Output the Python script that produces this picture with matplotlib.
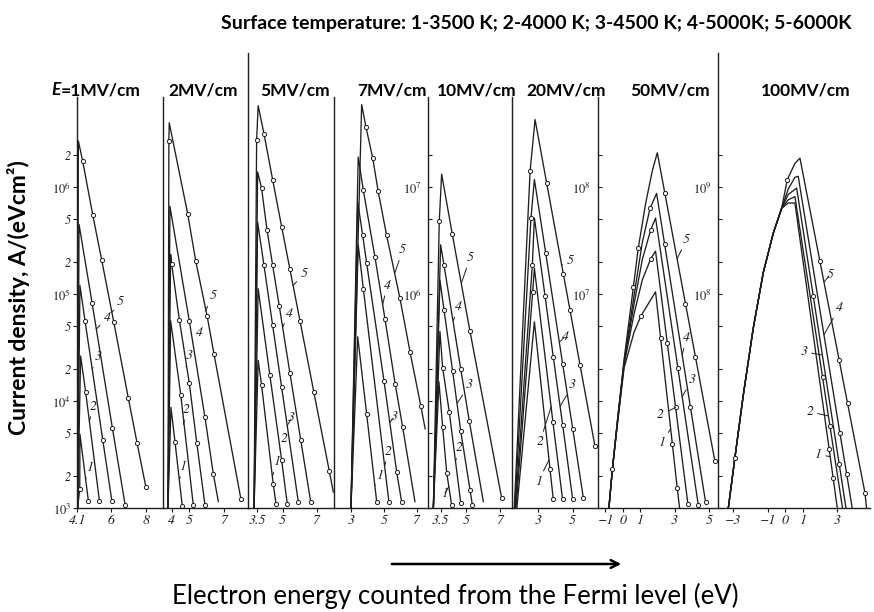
import numpy as np
import matplotlib.pyplot as plt
from matplotlib.patches import FancyArrowPatch

plt.rcParams['font.family'] = ['Lato', 'DejaVu Sans']
plt.rcParams['mathtext.fontset'] = 'stix'

# ---------------- text ----------------
title = 'Surface temperature: 1-3500 K; 2-4000 K; 3-4500 K; 4-5000K; 5-6000K'
fields = ['=1MV/cm', '2MV/cm', '5MV/cm', '7MV/cm', '10MV/cm', '20MV/cm', '50MV/cm', '100MV/cm']
ylabel = 'Current density, A/(eVcm\u00b2)'
xlabel = 'Electron energy counted from the Fermi level (eV)'

# ---------------- data: energy (eV) and log10 of current density ----------------
# panel 1, E = 1 MV/cm
p1_x = [[4.12, 4.24, 4.25, 4.73],
        [4.12, 4.29, 4.58, 5.36],
        [4.12, 4.25, 4.54, 5.55, 6.07],
        [4.12, 4.20, 4.94, 6.10, 6.83],
        [4.12, 4.16, 4.41, 4.98, 5.49, 6.18, 7.01, 7.51, 8.01]]
p1_y = [[3.0, 3.18, 3.69, 3.07],
        [3.0, 4.42, 4.08, 3.07],
        [3.0, 5.08, 4.75, 3.64, 3.07],
        [3.0, 5.65, 4.92, 3.75, 3.03],
        [3.0, 6.43, 6.24, 5.74, 5.32, 4.74, 4.03, 3.61, 3.20]]
p1_mk = [[1, 3], [2, 3], [2, 3, 4], [2, 3, 4], [2, 3, 4, 5, 6, 7, 8]]
p1_num = [(4.79, 3.38), (5.01, 3.95), (5.30, 4.41), (5.81, 4.78), (6.58, 4.93)]
p1_lead = [(4.58, 3.27), (4.79, 3.81), (4.96, 4.30), (5.18, 4.67), (6.07, 4.83)]
p1_xt = [4.1, 6, 8]

# panel 2, 2 MV/cm
p2_x = [[3.78, 3.95, 4.18, 4.60],
        [3.78, 3.93, 4.51, 5.23],
        [3.78, 3.93, 3.99, 4.43, 5.00, 5.43, 5.90],
        [3.78, 3.89, 5.00, 5.90, 6.38, 6.67],
        [3.78, 3.83, 3.85, 4.91, 5.37, 6.03, 6.42, 7.97]]
p2_y = [[3.0, 3.94, 3.62, 3.02],
        [3.0, 4.75, 4.06, 3.03],
        [3.0, 5.37, 5.28, 4.76, 4.17, 3.61, 3.03],
        [3.0, 5.82, 4.75, 3.85, 3.32, 3.06],
        [3.0, 6.43, 6.60, 5.75, 5.31, 4.79, 4.44, 3.08]]
p2_mk = [[2, 3], [2, 3], [2, 3, 4, 5, 6], [2, 3, 4], [1, 3, 4, 5, 6, 7]]
p2_num = [(4.62, 3.39), (4.85, 3.92), (5.00, 4.42), (5.61, 4.64), (6.38, 4.98)]
p2_lead = [(4.43, 3.26), (4.66, 3.78), (4.81, 4.32), (5.20, 4.55), (5.91, 4.84)]
p2_xt = [4, 5, 7]

# panel 3, 5 MV/cm
p3_x = [[3.32, 3.56, 3.76, 4.45, 4.61],
        [3.32, 3.56, 4.25, 4.94, 5.27],
        [3.32, 3.53, 3.90, 4.41, 4.94, 5.92],
        [3.32, 3.53, 3.76, 4.08, 4.41, 4.80, 5.43, 6.06, 6.65],
        [3.32, 3.47, 3.56, 3.90, 4.41, 4.94, 5.43, 6.02, 6.84, 7.74, 7.98]]
p3_y = [[3.0, 4.38, 4.15, 3.22, 3.04],
        [3.0, 5.05, 4.24, 3.45, 3.04],
        [3.0, 5.67, 5.27, 4.71, 4.13, 3.06],
        [3.0, 6.14, 5.99, 5.60, 5.27, 4.89, 4.26, 3.64, 3.06],
        [3.0, 6.44, 6.76, 6.50, 6.07, 5.63, 5.23, 4.75, 4.08, 3.35, 3.15]]
p3_mk = [[2, 3, 4], [2, 3, 4], [2, 3, 4, 5], [2, 3, 4, 5, 6, 7, 8], [1, 3, 4, 5, 6, 7, 8, 9]]
p3_num = [(4.65, 3.43), (5.08, 3.65), (5.53, 3.84), (5.39, 4.82), (6.25, 5.19)]
p3_lead = [(4.41, 3.30), (4.84, 3.55), (5.27, 3.77), (5.00, 4.69), (5.62, 5.08)]
p3_xt = [3.5, 5, 7]

# panel 4, 7 MV/cm
p4_x = [[3.0, 3.41, 3.95, 4.56],
        [3.0, 3.44, 3.75, 5.30],
        [3.0, 3.41, 3.71, 3.95, 5.00, 5.77, 6.07],
        [3.0, 3.44, 3.75, 4.45, 5.06, 5.68, 6.13, 6.88],
        [3.0, 3.65, 3.91, 4.32, 4.65, 5.16, 5.97, 6.58, 7.24, 7.50]]
p4_y = [[3.0, 4.60, 3.88, 3.06],
        [3.0, 5.46, 5.05, 3.06],
        [3.0, 5.86, 5.55, 5.29, 4.19, 3.34, 3.06],
        [3.0, 6.28, 5.97, 5.35, 4.77, 4.16, 3.76, 3.06],
        [3.0, 6.77, 6.56, 6.27, 5.96, 5.55, 4.96, 4.46, 3.95, 3.74]]
p4_mk = [[2, 3], [2, 3], [2, 3, 4, 5, 6], [2, 3, 4, 5, 6], [2, 3, 4, 5, 6, 7, 8]]
p4_num = [(4.78, 3.30), (5.26, 3.53), (5.61, 3.85), (5.20, 5.08), (6.13, 5.41)]
p4_lead = [(4.45, 3.21), (5.06, 3.40), (5.36, 3.80), (4.92, 4.90), (5.67, 5.20)]
p4_xt = [3, 5, 7]

# panel 5, 10 MV/cm
p5_x = [[3.05, 3.38, 3.60, 3.84, 4.13],
        [3.05, 3.44, 3.60, 3.99, 4.67],
        [3.05, 3.44, 3.68, 4.19, 4.67, 5.22, 5.36],
        [3.05, 3.48, 3.68, 4.67, 5.18, 6.01],
        [3.05, 3.40, 3.54, 4.17, 5.22, 7.10]]
p5_y = [[4.0, 5.18, 4.76, 4.33, 4.03],
        [4.0, 5.65, 5.31, 4.90, 4.05],
        [4.0, 6.13, 5.85, 5.28, 4.72, 4.17, 4.03],
        [4.0, 6.46, 6.27, 5.30, 4.81, 4.06],
        [4.0, 6.68, 7.12, 6.56, 5.65, 4.09]]
p5_mk = [[2, 3, 4], [2, 3, 4], [2, 3, 4, 5, 6], [2, 3, 4], [1, 3, 4, 5]]
p5_num = [(3.70, 4.13), (4.59, 4.56), (5.18, 5.15), (4.53, 5.88), (5.22, 6.34)]
p5_lead = [(3.97, 4.20), (4.37, 4.44), (4.47, 4.98), (4.23, 5.75), (4.73, 6.11)]
p5_xt = [3.5, 5, 7]

# panel 6, 20 MV/cm
p6_x = [[1.75, 2.77, 3.68, 3.87],
        [1.70, 2.67, 2.77, 3.85, 4.41],
        [1.66, 2.65, 2.77, 3.39, 3.87, 4.41, 5.00],
        [1.63, 2.57, 2.77, 3.43, 4.41, 5.00, 5.62],
        [1.60, 2.52, 2.81, 3.48, 4.45, 4.84, 5.42, 6.29]]
p6_y = [[4.0, 5.74, 4.36, 4.08],
        [4.0, 6.02, 6.24, 4.80, 4.08],
        [4.0, 6.27, 6.71, 5.98, 5.41, 4.78, 4.08],
        [4.0, 6.71, 7.07, 6.38, 5.35, 4.74, 4.09],
        [4.0, 7.15, 7.63, 7.04, 6.19, 5.85, 5.34, 4.58]]
p6_mk = [[2, 3], [1, 3, 4], [1, 3, 4, 5, 6], [1, 3, 4, 5, 6], [1, 3, 4, 5, 6, 7]]
p6_num = [(3.00, 4.25), (3.10, 4.62), (5.00, 5.15), (4.55, 5.60), (4.84, 6.31)]
p6_lead = [(3.62, 4.45), (3.75, 4.95), (4.26, 4.95), (4.22, 5.55), (4.36, 6.27)]
p6_xt = [3, 5]

# panel 7, 50 MV/cm
p7_x = [[-0.80, -0.60, -0.31, 0.08, 0.65, 1.04, 1.52, 1.90, 2.19, 2.87, 3.15, 3.29],
        [-0.80, -0.60, -0.31, 0.08, 0.65, 1.13, 1.62, 1.90, 2.58, 3.06, 3.54, 3.77],
        [-0.80, -0.60, -0.31, 0.08, 0.65, 1.13, 1.62, 1.90, 3.19, 4.37],
        [-0.80, -0.60, -0.31, 0.08, 0.65, 1.13, 1.58, 1.96, 2.42, 3.92, 4.60, 4.79],
        [-0.80, -0.60, -0.31, 0.08, 0.62, 0.90, 1.33, 1.71, 2.00, 2.44, 3.63, 4.21, 5.33]]
p7_y = [[5.0, 5.36, 5.78, 6.31, 6.64, 6.79, 6.92, 7.02, 6.59, 5.60, 5.19, 5.00],
        [5.0, 5.36, 5.79, 6.34, 6.81, 7.13, 7.33, 7.40, 6.54, 5.94, 5.33, 5.04],
        [5.0, 5.36, 5.80, 6.36, 6.90, 7.32, 7.60, 7.71, 6.31, 5.03],
        [5.0, 5.36, 5.81, 6.37, 6.98, 7.48, 7.80, 7.94, 7.47, 5.94, 5.25, 5.06],
        [5.0, 5.36, 5.81, 6.39, 7.07, 7.43, 7.85, 8.15, 8.32, 7.94, 6.91, 6.41, 5.44]]
p7_mk = [[5, 8, 9, 10], [6, 8, 9, 11], [6, 8, 9], [6, 8, 9, 11], [1, 4, 5, 9, 10, 11, 12]]
p7_num = [(2.29, 5.61), (2.19, 5.87), (4.02, 6.20), (3.69, 6.59), (3.69, 7.51)]
p7_lead = [(2.77, 5.74), (3.06, 5.94), (3.44, 6.04), (3.44, 6.43), (3.15, 7.33)]
p7_xt = [-1, 0, 1, 3, 5]

# panel 8, 100 MV/cm
p8_x = [[-3.29, -2.91, -2.43, -1.85, -1.27, -0.69, -0.21, 0.17, 0.56, 2.54, 2.77, 3.01],
        [-3.29, -2.91, -2.43, -1.85, -1.27, -0.69, -0.21, 0.17, 0.56, 2.16, 2.58, 3.31],
        [-3.29, -2.91, -2.43, -1.85, -1.27, -0.69, -0.21, 0.17, 0.66, 1.62, 3.12, 3.51],
        [-3.29, -2.91, -2.43, -1.85, -1.27, -0.69, -0.21, 0.17, 0.56, 0.75, 3.16, 3.55, 3.87],
        [-3.29, -2.91, -2.43, -1.85, -1.27, -0.69, -0.21, 0.12, 0.56, 0.85, 2.00, 3.12, 3.60, 4.61, 4.70]]
p8_y = [[6.0, 6.47, 7.05, 7.68, 8.20, 8.57, 8.80, 8.85, 8.85, 6.55, 6.28, 6.00],
        [6.0, 6.47, 7.05, 7.68, 8.20, 8.57, 8.80, 8.88, 8.91, 7.22, 6.77, 6.00],
        [6.0, 6.47, 7.05, 7.68, 8.20, 8.57, 8.80, 8.93, 8.99, 7.98, 6.41, 6.00],
        [6.0, 6.47, 7.05, 7.68, 8.20, 8.57, 8.80, 8.98, 9.09, 9.10, 6.70, 6.32, 6.00],
        [6.0, 6.47, 7.05, 7.68, 8.20, 8.57, 8.80, 9.07, 9.22, 9.27, 8.31, 7.38, 6.98, 6.14, 6.00]]
p8_mk = [[9, 10], [9, 10], [9, 10], [10, 11], [1, 7, 10, 11, 12, 13]]
p8_num = [(1.91, 6.50), (1.43, 6.90), (1.08, 7.46), (3.12, 7.87), (2.58, 8.18)]
p8_lead = [(2.60, 6.48), (2.50, 6.86), (2.15, 7.43), (2.24, 7.62), (2.24, 8.11)]
p8_xt = [-3, -1, 0, 1, 3]

# decade at the bottom of each panel, and labelled decades on the y axis
bases = [3, 3, 3, 3, 4, 4, 5, 6]
ylabeled = [[3, 4, 5, 6], [], [], [], [6, 7], [], [7, 8], [8, 9]]

# ---------------- layout (pixels) ----------------
W, H = 874, 612
BASE_PX = 508       # y of the common baseline
TOP_PX = 53         # top of tallest axis line
SPINE_TOP_PX = 97   # top of the normal axis lines
DEC_PX = 107        # pixels per decade
spine_px = [77.3, 163.3, 248.3, 334.3, 428.3, 511.7, 597.5, 718.3, 870]
xlims = [(4.1, 9.01), (3.51, 8.39), (2.98, 8.04), (1.99, 7.69),
         (2.75, 7.69), (1.45, 6.44), (-1.46, 5.53), (-3.87, 4.90)]
tall = [False, False, True, False, False, False, False, True]
ink = '#1e1e1e'


def fmt_tick(v):
    s = ('%g' % v).replace('-', '\u2212')
    return s


def draw_panel(fig, i, xs, ys, mks, nums, leads, xt):
    """
    one field-strength panel
    """
    b = bases[i]
    left = spine_px[i] / W
    width = (spine_px[i + 1] - spine_px[i]) / W
    ax = fig.add_axes([left, 1 - BASE_PX / H, width, (BASE_PX - TOP_PX) / H])
    ax.patch.set_alpha(0)
    ax.set_yscale('log')
    ax.set_xlim(*xlims[i])
    ax.set_ylim(10 ** b, 10 ** (b + (BASE_PX - TOP_PX) / DEC_PX))

    # curves
    for x, y, mk in zip(xs, ys, mks):
        ax.plot(x, 10 ** np.array(y), color=ink, lw=0.95, marker='o', markevery=mk,
                ms=3.0, mfc='white', mec=ink, mew=0.7)
    # curve numbers with leader lines
    for k, (t, a) in enumerate(zip(nums, leads)):
        ax.annotate(str(k + 1), xy=(a[0], 10 ** a[1]), xytext=(t[0], 10 ** t[1]),
                    ha='center', va='center', fontsize=10, fontfamily='STIXGeneral',
                    style='italic', color=ink,
                    arrowprops=dict(arrowstyle='-', lw=0.7, color=ink, shrinkA=1, shrinkB=0))

    # spines
    ax.spines['top'].set_visible(False)
    ax.spines['right'].set_visible(False)
    for s in ['left', 'bottom']:
        ax.spines[s].set_color(ink)
        ax.spines[s].set_linewidth(1.0)
    top_dec = (BASE_PX - TOP_PX) / DEC_PX if tall[i] else (BASE_PX - SPINE_TOP_PX) / DEC_PX
    ax.spines['left'].set_bounds(10 ** b, 10 ** (b + top_dec))

    # x ticks
    ax.set_xticks(xt, labels=[fmt_tick(v) for v in xt], fontfamily='STIXGeneral',
                  style='italic', fontsize=10)
    ax.tick_params(axis='x', direction='out', length=3, width=0.8, pad=1.5, colors=ink)

    # y ticks
    if i == 0:
        majors = [10.0 ** d for d in ylabeled[0]]
        ax.set_yticks(majors, labels=[r'$\mathit{10}^{\mathit{%d}}$' % d for d in ylabeled[0]],
                      fontsize=9)
        minors, mlabels = [], []
        for d in range(b, b + 4):
            for m in [2, 5]:
                if d + np.log10(m) < 6.5:
                    minors.append(m * 10.0 ** d)
                    mlabels.append(str(m))
        ax.set_yticks(minors, labels=mlabels, minor=True, fontfamily='STIXGeneral',
                      style='italic', fontsize=9)
        ax.tick_params(axis='y', which='both', direction='out', length=3, width=0.8,
                       pad=1.5, colors=ink)
    elif ylabeled[i]:
        majors = [10.0 ** d for d in range(b, b + 4)]
        labels = [r'$\mathit{10}^{\mathit{%d}}$' % d if d in ylabeled[i] else ''
                  for d in range(b, b + 4)]
        ax.set_yticks(majors, labels=labels, fontsize=9)
        minors = [m * 10.0 ** d for d in range(b, b + 4) for m in [2, 5]
                  if d + np.log10(m) < b + 3.5]
        ax.set_yticks(minors, minor=True)
        ax.yaxis.set_minor_formatter(plt.NullFormatter())
        ax.tick_params(axis='y', which='both', direction='in', length=3, width=0.8,
                       pad=5, colors=ink)
    else:
        ax.set_yticks([])
        ax.set_yticks([], minor=True)
    return ax


def main():
    fig = plt.figure(figsize=(W / 100, H / 100), dpi=100)

    panels = [(p1_x, p1_y, p1_mk, p1_num, p1_lead, p1_xt),
              (p2_x, p2_y, p2_mk, p2_num, p2_lead, p2_xt),
              (p3_x, p3_y, p3_mk, p3_num, p3_lead, p3_xt),
              (p4_x, p4_y, p4_mk, p4_num, p4_lead, p4_xt),
              (p5_x, p5_y, p5_mk, p5_num, p5_lead, p5_xt),
              (p6_x, p6_y, p6_mk, p6_num, p6_lead, p6_xt),
              (p7_x, p7_y, p7_mk, p7_num, p7_lead, p7_xt),
              (p8_x, p8_y, p8_mk, p8_num, p8_lead, p8_xt)]
    for i, p in enumerate(panels):
        draw_panel(fig, i, *p)

    # title
    fig.text(536 / W, 1 - 24 / H, title, ha='center', va='center',
             fontsize=14, fontweight='bold', color='black')

    # field captions
    cap_x = [96, 203, 295, 392, 477, 566, 670, 806]
    cap_y = 1 - 90 / H
    renderer = fig.canvas.get_renderer()
    for i, f in enumerate(fields):
        if i == 0:
            t1 = fig.text(0, cap_y, 'E', ha='left', va='center', fontsize=12.5,
                          fontweight='bold', style='italic')
            t2 = fig.text(0, cap_y, f, ha='left', va='center', fontsize=12.5,
                          fontweight='bold')
            w1 = t1.get_window_extent(renderer).width
            w2 = t2.get_window_extent(renderer).width
            x0 = cap_x[0] - (w1 + w2) / 2
            t1.set_x(x0 / W)
            t2.set_x((x0 + w1) / W)
        else:
            fig.text(cap_x[i] / W, cap_y, f, ha='center', va='center', fontsize=12.5,
                     fontweight='bold')

    # axis labels
    fig.text(19 / W, 1 - 298 / H, ylabel, rotation=90, ha='center', va='center',
             fontsize=16.5, fontweight='bold')
    fig.text(455 / W, 1 - 596 / H, xlabel, ha='center', va='center', fontsize=18.5)

    # direction arrow
    arrow = FancyArrowPatch((389 / W, 1 - 564 / H), (624 / W, 1 - 564 / H),
                            transform=fig.transFigure, arrowstyle='->', mutation_scale=14,
                            lw=1.8, color='black')
    fig.add_artist(arrow)

    fig.savefig('out.png', dpi=100)


if __name__ == '__main__':
    main()
